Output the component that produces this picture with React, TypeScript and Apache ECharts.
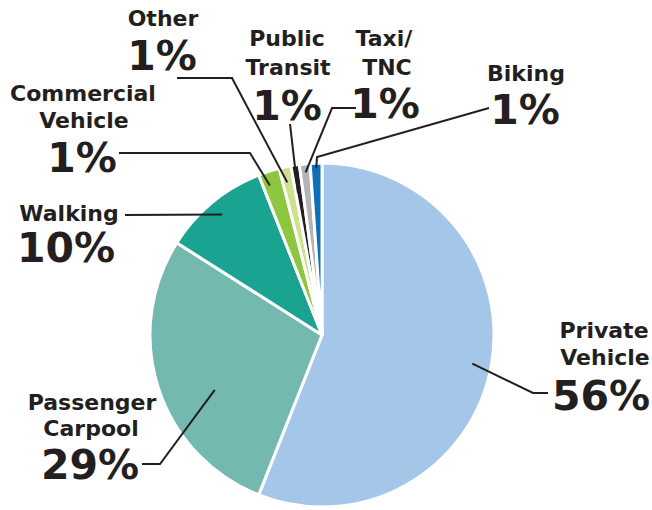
import React, { useEffect, useRef } from "react";
import * as echarts from "echarts";

const categories = [
  "Private Vehicle",
  "Passenger Carpool",
  "Walking",
  "Commercial Vehicle",
  "Other",
  "Public Transit",
  "Taxi/TNC",
  "Biking",
];
const values = [56, 28, 10, 2, 1.1, 0.8, 1.0, 1.1];
const percentLabels = ["56%", "29%", "10%", "1%", "1%", "1%", "1%", "1%"];
const nameLines = [
  ["Private", "Vehicle"],
  ["Passenger", "Carpool"],
  ["Walking"],
  ["Commercial", "Vehicle"],
  ["Other"],
  ["Public", "Transit"],
  ["Taxi/", "TNC"],
  ["Biking"],
];
const colors = [
  "#a4c7e9",
  "#73b9b0",
  "#1ba392",
  "#8dc63f",
  "#cde28c",
  "#231f20",
  "#b2b4b7",
  "#0d6fb8",
];

// layout (positions only)
const CX = 322;
const CY = 335;
const R = 172;
const INK = "#231f20";
const FONT = "DejaVu Sans";
const NAME_SIZE = 22;
const PCT_SIZE = 41;

type Lay = {
  names: [number, number][];
  pct: [number, number];
  leader: [number, number][];
  frac: number;
  rf: number;
};
const layout: Lay[] = [
  { names: [[604, 330], [605, 357]], pct: [601, 396], leader: [[548, 393], [533, 393]], frac: 0.5, rf: 0.89 },
  { names: [[92, 402], [91, 428]], pct: [90, 465], leader: [[142, 464], [160, 464]], frac: 0.41, rf: 0.7 },
  { names: [[69, 213]], pct: [66, 248], leader: [[125, 215]], frac: 0.5, rf: 0.91 },
  { names: [[83, 93], [84, 120]], pct: [82, 158], leader: [[119, 153], [250, 153]], frac: 0.33, rf: 0.92 },
  { names: [[163, 18]], pct: [162, 56], leader: [[177, 78], [232, 78]], frac: 0.4, rf: 0.91 },
  { names: [[287, 38], [288, 67]], pct: [287, 106], leader: [[290, 124]], frac: 0.3, rf: 0.84 },
  { names: [[384, 38], [387, 67]], pct: [385, 104], leader: [[356, 108], [332, 108]], frac: 0.5, rf: 0.95 },
  { names: [[526, 73]], pct: [525, 110], leader: [[489, 108], [317, 157]], frac: 0.5, rf: 0.97 },
];

function textEl(text: string, x: number, y: number, size: number) {
  return {
    type: "text",
    silent: true,
    z: 10,
    style: {
      text,
      x,
      y,
      fill: INK,
      font: `bold ${size}px "${FONT}"`,
      fontFamily: FONT,
      fontWeight: "bold",
      fontSize: size,
      align: "center",
      verticalAlign: "middle",
      textAlign: "center",
      textVerticalAlign: "middle",
    },
  };
}

export default function App() {
  const ref = useRef<HTMLDivElement>(null);
  useEffect(() => {
    document.body.style.margin = "0";
    if (!ref.current) return;
    const chart = echarts.init(ref.current, null, { renderer: "svg" });

    const total = values.reduce((a, b) => a + b, 0);
    const graphics: any[] = [];
    let cum = 0;
    values.forEach((v, i) => {
      const L = layout[i];
      const a0 = (cum / total) * 360;
      const a1 = ((cum + v) / total) * 360;
      cum += v;
      const ang = ((a0 + (a1 - a0) * L.frac) * Math.PI) / 180;
      const rr = R * L.rf;
      const anchor: [number, number] = [CX + rr * Math.sin(ang), CY - rr * Math.cos(ang)];
      graphics.push({
        type: "polyline",
        silent: true,
        z: 10,
        shape: { points: [...L.leader, anchor] },
        style: { stroke: INK, lineWidth: 2, fill: null },
      });
      nameLines[i].forEach((t, k) => {
        graphics.push(textEl(t, L.names[k][0], L.names[k][1], NAME_SIZE));
      });
      graphics.push(textEl(percentLabels[i], L.pct[0], L.pct[1], PCT_SIZE));
    });

    chart.setOption({
      animation: false,
      backgroundColor: "#ffffff",
      series: [
        {
          type: "pie",
          center: [CX, CY],
          radius: R,
          startAngle: 90,
          clockwise: true,
          label: { show: false },
          labelLine: { show: false },
          emphasis: { disabled: true },
          itemStyle: { borderColor: "#ffffff", borderWidth: 3 },
          data: categories.map((name, i) => ({
            name,
            value: values[i],
            itemStyle: { color: colors[i] },
          })),
        },
      ],
      graphic: { elements: graphics },
    });
    return () => chart.dispose();
  }, []);
  return <div ref={ref} style={{ width: 652, height: 510 }} />;
}
